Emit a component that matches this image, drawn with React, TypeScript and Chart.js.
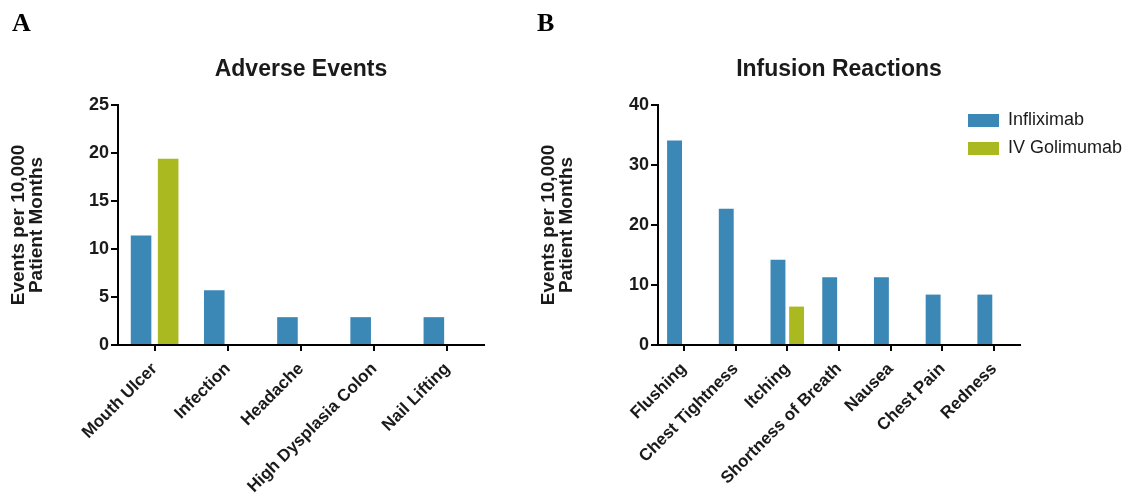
import React, { useEffect, useRef } from 'react';
import { Chart, registerables } from 'chart.js';

Chart.register(...registerables);

// ---------- Data ----------
const seriesLabels = ['Infliximab', 'IV Golimumab'];
const yAxisTitle = ['Events per 10,000', 'Patient Months'];

const aeTitle = 'Adverse Events';
const aeCategories = ['Mouth Ulcer', 'Infection', 'Headache', 'High Dysplasia Colon', 'Nail Lifting'];
const aeInfliximab = [11.4, 5.7, 2.9, 2.9, 2.9];
const aeGolimumab = [19.4, null, null, null, null];
const aeYMax = 25;
const aeYStep = 5;

const irTitle = 'Infusion Reactions';
const irCategories = ['Flushing', 'Chest Tightness', 'Itching', 'Shortness of Breath', 'Nausea', 'Chest Pain', 'Redness'];
const irInfliximab = [34.1, 22.7, 14.2, 11.3, 11.3, 8.4, 8.4];
const irGolimumab = [null, null, 6.4, null, null, null, null];
const irYMax = 40;
const irYStep = 10;

// ---------- Styles ----------
const BLUE = '#3b87b6';
const GREEN = '#a9b91f';
const TEXT = '#1a1a1a';
const FAMILY = '"Liberation Sans", Arial, Helvetica, sans-serif';

function buildConfig(p: any): any {
  const legendPlacer = {
    id: 'legendPlacer',
    afterLayout(chart: any) {
      const lg = chart.legend;
      if (!lg || !p.showLegend) return;
      const w = 200;
      const h = lg.height;
      lg.width = w;
      lg.left = p.legendX;
      lg.right = p.legendX + w;
      lg.top = p.legendY;
      lg.bottom = p.legendY + h;
    },
  };
  return {
    type: 'bar',
    data: {
      labels: p.categories,
      datasets: [
        {
          label: seriesLabels[0],
          data: p.infliximab,
          backgroundColor: BLUE,
          borderWidth: 0,
          categoryPercentage: p.catPct,
          barPercentage: p.barPct,
        },
        {
          label: seriesLabels[1],
          data: p.golimumab,
          backgroundColor: GREEN,
          borderWidth: 0,
          categoryPercentage: p.catPct,
          barPercentage: p.barPct,
        },
      ],
    },
    plugins: [legendPlacer],
    options: {
      responsive: false,
      animation: false,
      events: [],
      layout: { padding: { left: 0, right: p.padRight, top: 0, bottom: 0 } },
      plugins: {
        tooltip: { enabled: false },
        legend: {
          display: p.showLegend,
          position: 'right',
          align: 'start',
          maxWidth: 100,
          labels: {
            boxWidth: 31,
            boxHeight: 13,
            padding: 10,
            color: TEXT,
            font: { family: FAMILY, size: 18, weight: 'normal' },
          },
        },
        title: {
          display: true,
          text: p.title,
          fullSize: false,
          color: TEXT,
          font: { family: FAMILY, size: 23, weight: 'bold', lineHeight: 1.2 },
          padding: { top: 55.7, bottom: 21.7 },
        },
      },
      scales: {
        x: {
          grid: {
            display: true,
            drawOnChartArea: false,
            offset: false,
            drawTicks: true,
            tickLength: 6,
            lineWidth: 2,
            color: '#000',
          },
          border: { display: true, color: '#000', width: 2 },
          ticks: {
            autoSkip: false,
            minRotation: 45,
            maxRotation: 45,
            padding: 8,
            color: TEXT,
            font: { family: FAMILY, size: 17, weight: 'bold' },
          },
          afterFit: (s: any) => {
            s.height = 157;
          },
        },
        y: {
          min: 0,
          max: p.yMax,
          ticks: {
            stepSize: p.yStep,
            padding: 2,
            color: TEXT,
            font: { family: FAMILY, size: 18, weight: 'bold' },
          },
          grid: {
            display: true,
            drawOnChartArea: false,
            drawTicks: true,
            tickLength: 7,
            lineWidth: 2,
            color: '#000',
          },
          border: { display: true, color: '#000', width: 2 },
          title: {
            display: true,
            text: yAxisTitle,
            color: TEXT,
            font: { family: FAMILY, size: 19, weight: 'bold', lineHeight: 0.95 },
            padding: { top: 9.5, bottom: 0 },
          },
          afterFit: (s: any) => {
            s.width = p.yWidth;
          },
        },
      },
    },
  };
}

function Panel(props: { left: number; width: number; cfg: any }) {
  const ref = useRef<HTMLCanvasElement | null>(null);
  useEffect(() => {
    if (!ref.current) return;
    const chart = new Chart(ref.current, buildConfig(props.cfg));
    return () => chart.destroy();
  }, []);
  return (
    <canvas
      ref={ref}
      width={props.width}
      height={502}
      style={{ position: 'absolute', left: props.left, top: 0, width: props.width, height: 502 }}
    />
  );
}

const letterStyle: React.CSSProperties = {
  position: 'absolute',
  top: 10,
  fontFamily: '"Liberation Serif", "Times New Roman", serif',
  fontWeight: 'bold',
  fontSize: 26,
  lineHeight: '26px',
  color: '#000',
};

export default function App() {
  return (
    <div
      style={{
        position: 'fixed',
        left: 0,
        top: 0,
        width: 1134,
        height: 502,
        background: '#fff',
        overflow: 'hidden',
      }}
    >
      <Panel
        left={0}
        width={530}
        cfg={{
          title: aeTitle,
          categories: aeCategories,
          infliximab: aeInfliximab,
          golimumab: aeGolimumab,
          yMax: aeYMax,
          yStep: aeYStep,
          yWidth: 118,
          padRight: 46,
          catPct: 0.74,
          barPct: 0.76,
          showLegend: false,
          legendX: 0,
          legendY: 0,
        }}
      />
      <Panel
        left={530}
        width={604}
        cfg={{
          title: irTitle,
          categories: irCategories,
          infliximab: irInfliximab,
          golimumab: irGolimumab,
          yMax: irYMax,
          yStep: irYStep,
          yWidth: 128,
          padRight: 14,
          catPct: 0.72,
          barPct: 0.8,
          showLegend: true,
          legendX: 428,
          legendY: 101.5,
        }}
      />
      <div style={{ ...letterStyle, left: 12 }}>A</div>
      <div style={{ ...letterStyle, left: 537 }}>B</div>
    </div>
  );
}
